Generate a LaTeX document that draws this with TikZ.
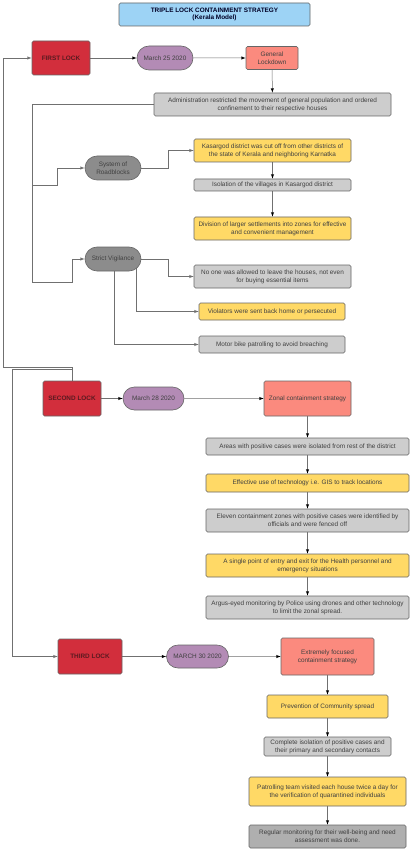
\documentclass[tikz,border=0pt]{standalone}
\usepackage{fontspec}
\setmainfont{Liberation Sans}
\usepackage{tikz}
\usetikzlibrary{arrows,shapes.misc,backgrounds}

\definecolor{lockred}{HTML}{D22E3C}
\definecolor{locktext}{HTML}{5A1A20}
\definecolor{datepurple}{HTML}{B38BB5}
\definecolor{salmon}{HTML}{FB8A7E}
\definecolor{noteyellow}{HTML}{FFD966}
\definecolor{notegray}{HTML}{CDCDCD}
\definecolor{pillgray}{HTML}{8C8C8C}
\definecolor{titleblue}{HTML}{9DD3F5}
\definecolor{lastgray}{HTML}{AFAFAF}
\definecolor{linegray}{HTML}{707070}

\begin{document}
\begin{tikzpicture}[x=1pt,y=-1pt,
  every node/.style={font=\fontsize{6.4}{7.8}\selectfont, text=black!75, align=center, inner sep=1pt},
  box/.style={shape=rectangle, draw=black!60, line width=0.6pt, rounded corners=1.5pt},
  lockbox/.style={box, fill=lockred, text=locktext, font=\fontsize{6.4}{7.8}\selectfont\bfseries},
  datepill/.style={shape=rounded rectangle, draw=black!60, line width=0.6pt, fill=datepurple},
  graypill/.style={shape=rounded rectangle, draw=black!60, line width=0.6pt, fill=pillgray},
  salmonbox/.style={box, fill=salmon},
  yellowbox/.style={box, fill=noteyellow},
  graybox/.style={box, fill=notegray},
  conn/.style={draw=linegray, line width=0.5pt, ->, >=latex}]
  \useasboundingbox (0,0) rectangle (412,850);

  % title
  \node[box, fill=titleblue, text=black!85!blue, font=\fontsize{6.4}{7.8}\selectfont\bfseries,
    minimum width=191pt, minimum height=23pt] (title) at (214.5,14.5)
    {TRIPLE LOCK CONTAINMENT STRATEGY\\(Kerala Model)};

  % first lock
  \node[lockbox, minimum width=58pt, minimum height=34pt] (fl) at (61,58) {FIRST LOCK};
  \node[datepill, minimum width=58pt, minimum height=24pt] (d1) at (165,58) {March 25 2020};
  \node[salmonbox, minimum width=52pt, minimum height=23pt] (gl) at (272,58) {General\\Lockdown};
  \node[graybox, minimum width=237pt, minimum height=23pt] (admin) at (272.5,104.5)
    {Administration restricted the movement of general population and ordered\\confinement to their respective houses};
  \node[graypill, minimum width=58pt, minimum height=24pt] (road) at (113,168) {System of\\Roadblocks};
  \node[yellowbox, minimum width=157pt, minimum height=23pt] (kas) at (272.5,150.5)
    {Kasargod district was cut off from other districts of\\the state of Kerala and neighboring Karnatka};
  \node[graybox, minimum width=157pt, minimum height=12pt] (iso) at (272.5,185)
    {Isolation of the villages in Kasargod district};
  \node[yellowbox, minimum width=157pt, minimum height=23pt] (div) at (272.5,228.5)
    {Division of larger settlements into zones for effective\\and convenient management};
  \node[graypill, minimum width=58pt, minimum height=24pt] (sv) at (113,259) {Strict Vigilance};
  \node[graybox, minimum width=157pt, minimum height=23pt] (noone) at (272.5,276.5)
    {No one was allowed to leave the houses, not even\\for buying essential items};
  \node[yellowbox, minimum width=146pt, minimum height=17pt] (viol) at (272,311.5)
    {Violators were sent back home or persecuted};
  \node[graybox, minimum width=146pt, minimum height=17pt] (motor) at (272,344.5)
    {Motor bike patrolling to avoid breaching};

  % second lock
  \node[lockbox, minimum width=58pt, minimum height=35pt] (sl) at (72,398.5) {SECOND LOCK};
  \node[datepill, minimum width=63pt, minimum height=23pt] (d2) at (153.5,398.5) {March 28 2020};
  \node[salmonbox, minimum width=87pt, minimum height=35pt] (zonal) at (307.5,398.5) {Zonal containment strategy};
  \node[graybox, minimum width=203pt, minimum height=17pt] (areas) at (307.5,446.5)
    {Areas with positive cases were isolated from rest of the district};
  \node[yellowbox, minimum width=203pt, minimum height=18pt] (gis) at (307.5,483)
    {Effective use of technology i.e. GIS to track locations};
  \node[graybox, minimum width=203pt, minimum height=23pt] (eleven) at (307.5,520.5)
    {Eleven containment zones with positive cases were identified by\\officials and were fenced off};
  \node[yellowbox, minimum width=203pt, minimum height=23pt] (entry) at (307.5,565.5)
    {A single point of entry and exit for the Health personnel and\\emergency situations};
  \node[graybox, minimum width=203pt, minimum height=23pt] (argus) at (307.5,607.5)
    {Argus-eyed monitoring by Police using drones and other technology\\to limit the zonal spread.};

  % third lock
  \node[lockbox, minimum width=64pt, minimum height=35pt] (tl) at (90,656.5) {THIRD LOCK};
  \node[datepill, minimum width=64pt, minimum height=23pt] (d3) at (197.5,656.5) {MARCH 30 2020};
  \node[salmonbox, minimum width=93pt, minimum height=37pt] (focus) at (327.5,656.5)
    {Extremely focused\\containment strategy};
  \node[yellowbox, minimum width=121pt, minimum height=23pt] (prev) at (327.5,706.5)
    {Prevention of Community spread};
  \node[graybox, minimum width=127pt, minimum height=19pt] (compl) at (327.5,746.5)
    {Complete isolation of positive cases and\\their primary and secondary contacts};
  \node[yellowbox, minimum width=157pt, minimum height=29pt] (patrol) at (327.5,791.5)
    {Patrolling team visited each house twice a day for\\the verification of quarantined individuals};
  \node[box, fill=lastgray, minimum width=157pt, minimum height=23pt] (regular) at (327.5,836.5)
    {Regular monitoring for their well-being and need\\assessment was done.};

  \begin{scope}[on background layer]
    \fill[white] (0,0) rectangle (412,850);
    % connectors
    \path[conn] (fl) edge (d1);
    \path[conn] (d1) edge (gl);
    \path[conn] (gl) edge (admin);
    \draw[conn] (admin.west) -- (32,104.5) |- (57,185) |- (road.west);
    \draw[conn] (admin.west) -- (32,104.5) |- (72,282) |- (sv.west);
    \draw[conn] (road.east) -- (168,168) |- (kas.west);
    \path[conn] (kas) edge (iso);
    \path[conn] (iso) edge (div);
    \draw[conn] (sv.east) -- (168,259) |- (noone.west);
    \draw[conn] ([xshift=23pt]sv.center) |- (viol.west);
    \draw[conn] ([xshift=1pt]sv.center) |- (motor.west);
    \draw[conn] (sl.north) |- (3,367) |- (fl.west);
    \draw[conn] (sl.north) |- (12,369) |- (tl.west);
    \path[conn] (sl) edge (d2);
    \path[conn] (d2) edge (zonal);
    \path[conn] (zonal) edge (areas);
    \path[conn] (areas) edge (gis);
    \path[conn] (gis) edge (eleven);
    \path[conn] (eleven) edge (entry);
    \path[conn] (entry) edge (argus);
    \path[conn] (tl) edge (d3);
    \path[conn] (d3) edge (focus);
    \path[conn] (focus) edge (prev);
    \path[conn] (prev) edge (compl);
    \path[conn] (compl) edge (patrol);
    \path[conn] (patrol) edge (regular);
  \end{scope}
\end{tikzpicture}
\end{document}
